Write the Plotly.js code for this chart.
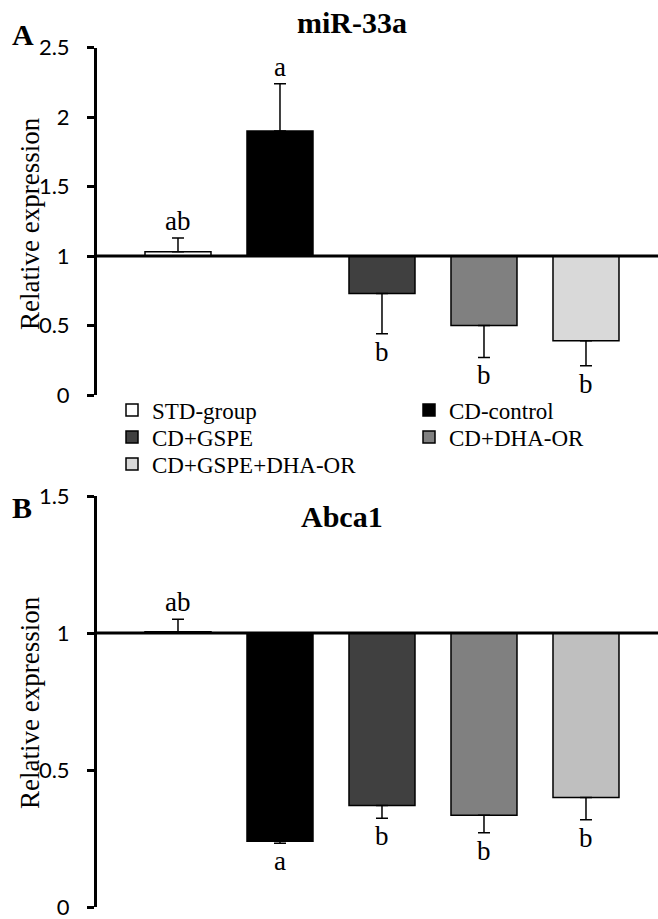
<!DOCTYPE html>
<html>
<head>
<meta charset="utf-8">
<script src="https://cdn.plot.ly/plotly-3.0.1.min.js"></script>
<style>
  html, body { margin: 0; padding: 0; background: #fff; }
  #chart { width: 658px; height: 919px; }
</style>
</head>
<body>
<div id="chart"></div>
<script>
// Groups and their bar fills
const groups = ['STD-group', 'CD-control', 'CD+GSPE', 'CD+DHA-OR', 'CD+GSPE+DHA-OR'];
const fillsA = ['#ffffff', '#000000', '#404040', '#808080', '#d9d9d9'];
const fillsB = ['#ffffff', '#000000', '#404040', '#808080', '#bfbfbf'];
// Legend row for each group (two entries per row)
const legendRows = ['legend', 'legend', 'legend2', 'legend2', 'legend3'];

// miR-33a relative expression (mean, SEM) and significance letters
const mir33aMean = [1.03, 1.90, 0.73, 0.50, 0.39];
const mir33aErr = [0.10, 0.34, 0.29, 0.23, 0.18];
const mir33aLetters = ['ab', 'a', 'b', 'b', 'b'];

// Abca1 relative expression (mean, SEM) and significance letters
const abca1Mean = [1.005, 0.24, 0.37, 0.335, 0.40];
const abca1Err = [0.045, 0.007, 0.046, 0.064, 0.082];
const abca1Letters = ['ab', 'a', 'b', 'b', 'b'];

// Tick values for each panel
const ticksA = [0, 0.5, 1, 1.5, 2, 2.5];
const ticksB = [0, 0.5, 1, 1.5];

const BASE = 1;            // bars grow from the reference level 1
const W = 658, H = 919;
const serif = '"Liberation Serif", "Times New Roman", serif';
const sans = 'Lato, Carlito, Calibri, sans-serif';

function panelTraces(means, errs, fills, xa, ya, showLegend) {
  return groups.map((g, i) => {
    const up = means[i] >= BASE;
    return {
      type: 'bar',
      name: g,
      legendgroup: g,
      legend: legendRows[i],
      showlegend: showLegend,
      x: [i],
      y: [means[i] - BASE],
      base: BASE,
      width: 0.647,
      xaxis: xa,
      yaxis: ya,
      marker: { color: fills[i], line: { color: '#000', width: 1.5 } },
      error_y: {
        type: 'data',
        symmetric: false,
        array: [up ? errs[i] : 0],
        arrayminus: [up ? 0 : errs[i]],
        color: '#000',
        thickness: 1.5,
        width: 6
      },
      hoverinfo: 'skip'
    };
  });
}

function letterAnnotations(means, errs, letters, xref, yref) {
  return letters.map((t, i) => {
    const up = means[i] >= BASE;
    return {
      xref: xref, yref: yref,
      x: i,
      y: up ? means[i] + errs[i] : means[i] - errs[i],
      text: t,
      showarrow: false,
      yanchor: up ? 'bottom' : 'top',
      yshift: up ? 0 : -1,
      font: { family: serif, size: 27, color: '#000' }
    };
  });
}

const data = [
  ...panelTraces(mir33aMean, mir33aErr, fillsA, 'x', 'y', true),
  ...panelTraces(abca1Mean, abca1Err, fillsB, 'x2', 'y2', false)
];

const xDomain = [97 / W, 1];
const xRange = [-0.794, 4.706];

function yAxis(range, ticks, domain, anchor) {
  return {
    domain: domain,
    range: range,
    anchor: anchor,
    tickmode: 'array',
    tickvals: ticks,
    ticktext: ticks.map(String),
    ticks: 'outside',
    ticklen: 7,
    tickwidth: 3,
    tickcolor: '#000',
    ticklabelstandoff: 13,
    ticklabeloverflow: 'allow',
    showline: true,
    linecolor: '#000',
    linewidth: 3,
    showgrid: false,
    zeroline: false,
    tickfont: { family: sans, size: 22, color: '#000' },
    fixedrange: true
  };
}

function xAxis(anchor) {
  return {
    domain: xDomain,
    range: xRange,
    anchor: anchor,
    visible: false,
    fixedrange: true
  };
}

const paperText = (text, px, py, size, opts) => Object.assign({
  xref: 'paper', yref: 'paper',
  x: px / W, y: 1 - py / H,
  text: text,
  showarrow: false,
  xanchor: 'center', yanchor: 'middle',
  font: { family: serif, size: size, color: '#000' }
}, opts || {});

const annotations = [
  ...letterAnnotations(mir33aMean, mir33aErr, mir33aLetters, 'x', 'y'),
  ...letterAnnotations(abca1Mean, abca1Err, abca1Letters, 'x2', 'y2'),
  paperText('<b>miR-33a</b>', 352, 22, 30),
  paperText('<b>Abca1</b>', 342, 516, 30),
  paperText('<b>A</b>', 23, 34, 30),
  paperText('<b>B</b>', 22, 507, 30),
  paperText('Relative expression', 30, 224, 27, { textangle: -90 }),
  paperText('Relative expression', 30, 703, 27, { textangle: -90 })
];

// Reference line at level 1 across each panel
const refLine = (xref, yref) => ({
  type: 'line', xref: xref + ' domain', yref: yref,
  x0: 0, x1: 1, y0: BASE, y1: BASE,
  line: { color: '#000', width: 3 }
});

// One horizontal legend per row so the rows sit close together
const legendRow = (py) => ({
  orientation: 'h',
  x: 112 / W,
  xanchor: 'left',
  y: 1 - py / H,
  yanchor: 'middle',
  entrywidthmode: 'pixels',
  entrywidth: 252,
  bgcolor: 'rgba(0,0,0,0)',
  font: { family: serif, size: 23, color: '#000' },
  traceorder: 'normal'
});

const layout = {
  width: W,
  height: H,
  margin: { l: 0, r: 0, t: 0, b: 0, autoexpand: false },
  paper_bgcolor: '#fff',
  plot_bgcolor: 'rgba(0,0,0,0)',
  barmode: 'overlay',
  showlegend: true,
  legend: legendRow(410),
  legend2: legendRow(437),
  legend3: legendRow(464),
  xaxis: xAxis('y'),
  yaxis: yAxis([0, 2.5], ticksA, [524 / H, 871.5 / H], 'x'),
  xaxis2: xAxis('y2'),
  yaxis2: yAxis([0, 1.5], ticksB, [12 / H, 423 / H], 'x2'),
  shapes: [refLine('x', 'y'), refLine('x2', 'y2')],
  annotations: annotations
};

Plotly.newPlot('chart', data, layout, { displayModeBar: false, staticPlot: true });
</script>
</body>
</html>
